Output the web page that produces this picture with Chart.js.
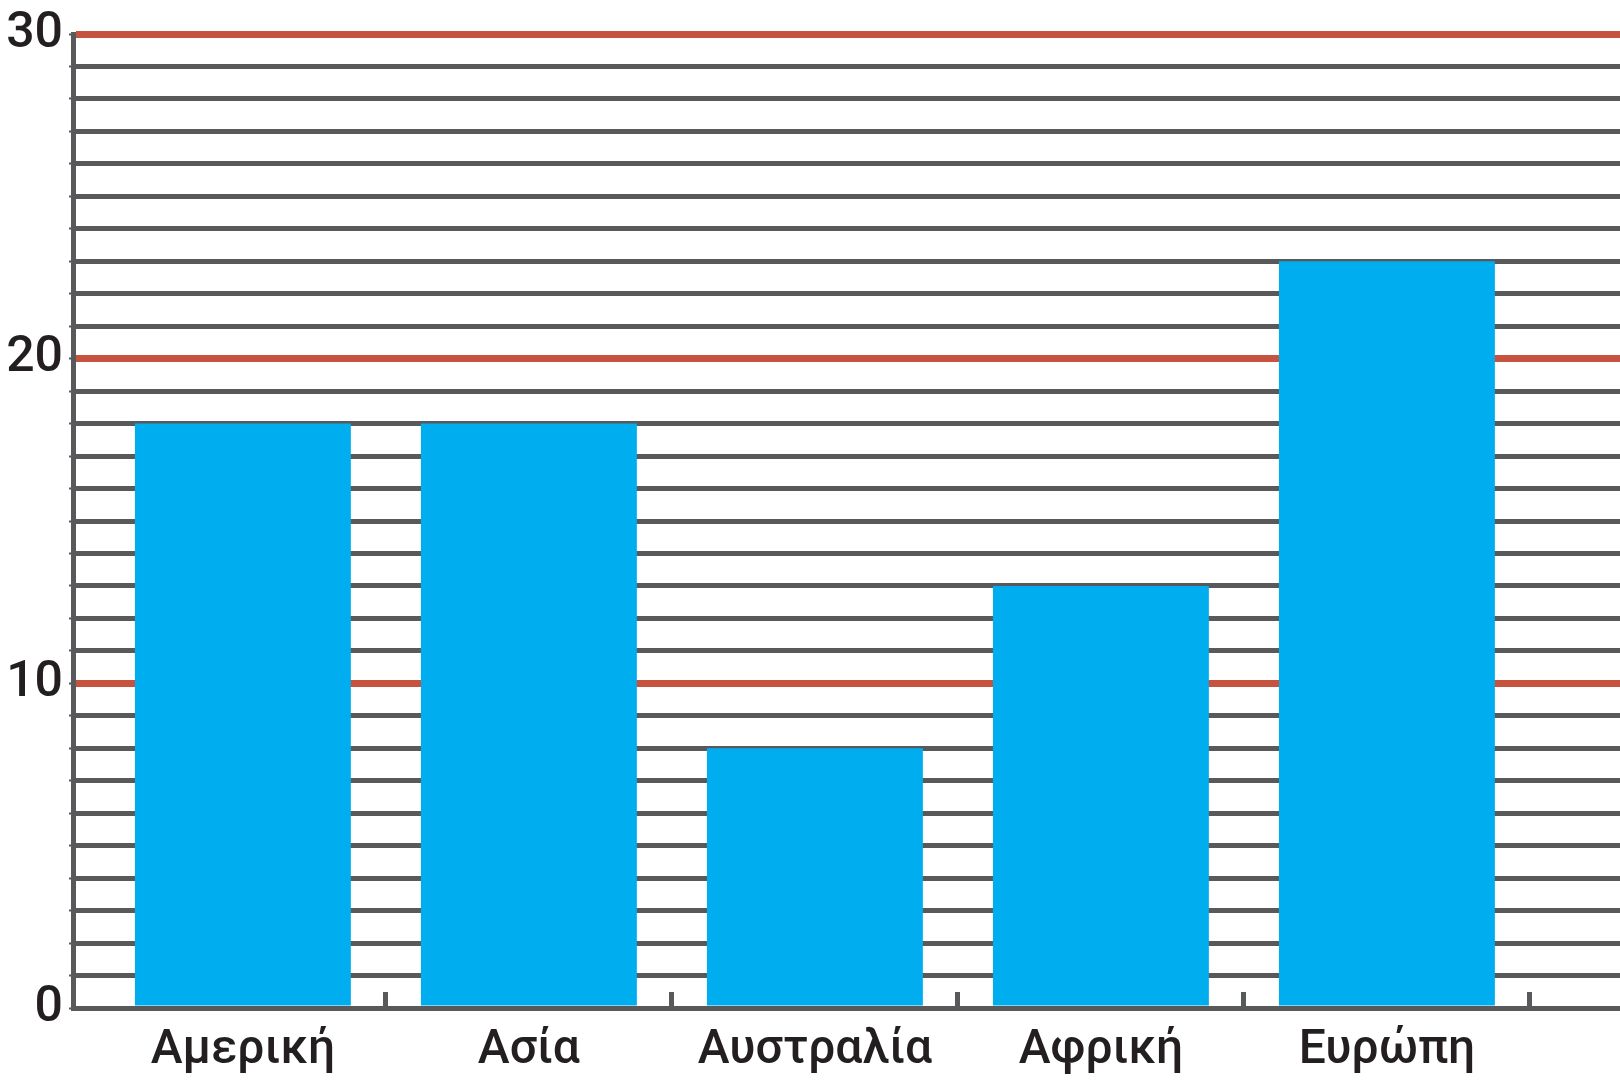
<!DOCTYPE html>
<html><head><meta charset="utf-8">
<script src="https://cdn.jsdelivr.net/npm/chart.js@4/dist/chart.umd.min.js"></script>
<style>html,body{margin:0;padding:0;background:#fff;overflow:hidden}#wrap{width:1620px;height:1082px}</style>
</head><body><div id="wrap"><canvas id="c" width="1620" height="1082"></canvas></div>
<script>
const categories = ['Αμερική', 'Ασία', 'Αυστραλία', 'Αφρική', 'Ευρώπη'];
const values = [18, 18, 8, 13, 23];
const yTickLabels = [0, 10, 20, 30];

const GRAY = '#58595b';
const RED = '#c65340';
const BLUE = '#00aeef';
const TEXT = '#231f20';

const points = categories.map((c, i) => ({ x: i, y: values[i] }));
const isMajor = ctx => ctx.tick && ctx.tick.value % 10 === 0 && ctx.tick.value !== 0;

new Chart(document.getElementById('c'), {
  type: 'bar',
  data: {
    datasets: [{
      data: points,
      backgroundColor: BLUE,
      borderWidth: 0,
      categoryPercentage: 1,
      barPercentage: 0.755
    }]
  },
  options: {
    responsive: false,
    animation: false,
    devicePixelRatio: 1,
    layout: { padding: { top: 34, left: 0, right: 0, bottom: 0 } },
    plugins: { legend: { display: false }, tooltip: { enabled: false }, title: { display: false } },
    scales: {
      x: {
        type: 'linear',
        offset: false,
        min: -0.594,
        max: 4.815,
        grid: {
          offset: true,
          drawOnChartArea: false,
          drawTicks: true,
          tickLength: -16,
          tickWidth: 5,
          tickColor: ctx => ctx.index === 0 ? 'rgba(0,0,0,0)' : GRAY,
          color: GRAY
        },
        border: { color: GRAY, width: 5 },
        ticks: {
          stepSize: 1,
          includeBounds: false,
          autoSkip: false,
          maxRotation: 0,
          minRotation: 0,
          padding: 30,
          color: TEXT,
          font: { family: 'Roboto', size: 48, weight: '500' },
          callback: v => Number.isInteger(v) && categories[v] !== undefined ? categories[v] : ''
        },
        afterFit: s => { s.height = 74; }
      },
      y: {
        min: 0,
        max: 30,
        z: 1,
        grid: {
          color: ctx => isMajor(ctx) ? RED : GRAY,
          lineWidth: ctx => isMajor(ctx) ? 7 : 5,
          drawTicks: true,
          tickLength: 4,
          tickWidth: 2,
          tickColor: GRAY
        },
        border: { color: GRAY, width: 5 },
        ticks: {
          stepSize: 1,
          autoSkip: false,
          padding: 6,
          color: TEXT,
          font: { family: 'Roboto', size: 50, weight: '500', lineHeight: 1.0 },
          callback: v => yTickLabels.includes(v) ? String(v) : ''
        },
        afterFit: s => { s.width = 73; }
      }
    }
  }
});
</script>
</body></html>
